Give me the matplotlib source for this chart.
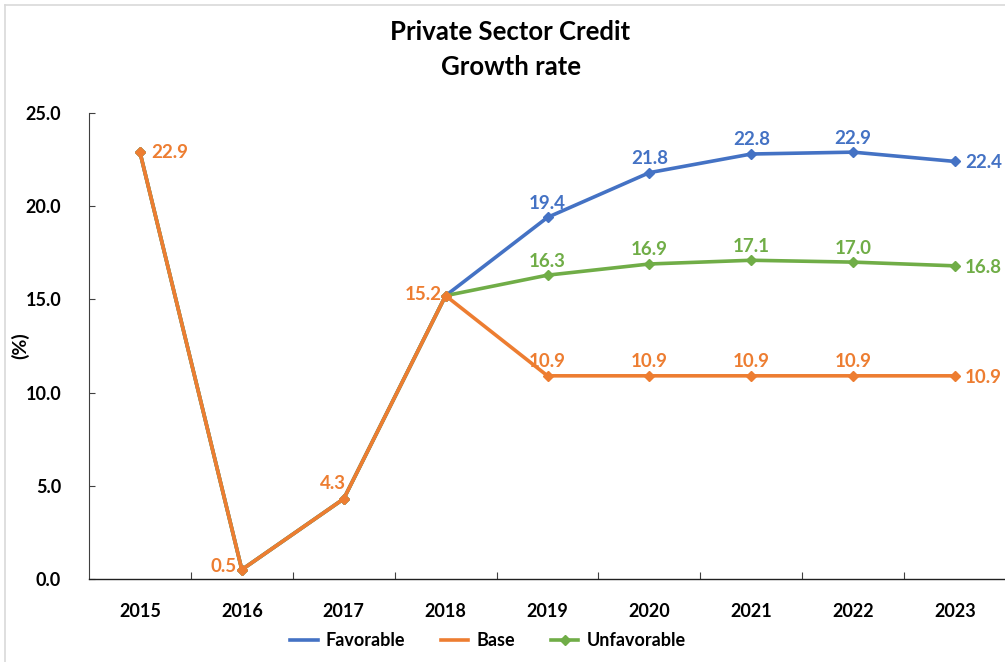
import matplotlib
matplotlib.use("Agg")
import matplotlib.pyplot as plt
from matplotlib.lines import Line2D

plt.rcParams['font.family'] = ['Lato', 'DejaVu Sans']

years = ["2015", "2016", "2017", "2018", "2019", "2020", "2021", "2022", "2023"]
favorable = [22.9, 0.5, 4.3, 15.2, 19.4, 21.8, 22.8, 22.9, 22.4]
base = [22.9, 0.5, 4.3, 15.2, 10.9, 10.9, 10.9, 10.9, 10.9]
unfavorable = [22.9, 0.5, 4.3, 15.2, 16.3, 16.9, 17.1, 17.0, 16.8]

BLUE = "#4472C4"
ORANGE = "#ED7D31"
GREEN = "#70AD47"

fig = plt.figure(figsize=(10.05, 6.62), dpi=100)
ax = fig.add_axes([89 / 1005, 83 / 662, 917 / 1005, 466 / 662])

x = list(range(len(years)))
style = dict(lw=2.6, marker="D", markersize=5, solid_joinstyle="round")
ax.plot(x, favorable, color=BLUE, **style, zorder=3)
ax.plot(x, unfavorable, color=GREEN, **style, zorder=4)
ax.plot(x, base, color=ORANGE, **style, zorder=5)

lab = dict(fontsize=13.5, fontweight="bold")

# shared history labels (2015-2018)
ax.annotate(f"{base[0]:.1f}", (0, base[0]), xytext=(8, 0), textcoords="offset points",
            ha="left", va="center", color=ORANGE, **lab)
ax.annotate(f"{base[1]:.1f}", (1, base[1]), xytext=(-4, 2), textcoords="offset points",
            ha="right", va="center", color=ORANGE, **lab)
ax.annotate(f"{base[2]:.1f}", (2, base[2]), xytext=(-8, 5), textcoords="offset points",
            ha="center", va="bottom", color=ORANGE, **lab)
ax.annotate(f"{base[3]:.1f}", (3, base[3]), xytext=(-3, 1), textcoords="offset points",
            ha="right", va="center", color=ORANGE, **lab)

# scenario labels (2019-2023)
for series, color in ((favorable, BLUE), (unfavorable, GREEN), (base, ORANGE)):
    for i in range(4, len(years)):
        if i == len(years) - 1:
            ax.annotate(f"{series[i]:.1f}", (i, series[i]), xytext=(7, -1),
                        textcoords="offset points", ha="left", va="center",
                        color=color, **lab)
        else:
            ax.annotate(f"{series[i]:.1f}", (i, series[i]), xytext=(0, 4),
                        textcoords="offset points", ha="center", va="bottom",
                        color=color, **lab)

ax.set_xlim(-0.5, len(years) - 0.5)
ax.set_ylim(0, 25)
ax.set_yticks([0, 5, 10, 15, 20, 25])
ax.set_yticklabels([f"{v:.1f}" for v in [0, 5, 10, 15, 20, 25]],
                   fontsize=13, fontweight="bold")
ax.set_xticks(x)
ax.set_xticklabels(years, fontsize=13, fontweight="bold")
ax.set_xticks([i + 0.5 for i in range(len(years) - 1)], minor=True)
ax.tick_params(axis="x", which="major", length=0, pad=17)
ax.tick_params(axis="x", which="minor", direction="in", length=5, width=0.8, color="#404040")
ax.tick_params(axis="y", direction="in", length=4, width=0.8, color="#404040", pad=20)

for side in ("top", "right"):
    ax.spines[side].set_visible(False)
ax.spines["left"].set_color("#404040")
ax.spines["left"].set_linewidth(0.8)
ax.spines["bottom"].set_color("#202020")
ax.spines["bottom"].set_linewidth(1.0)

ax.set_ylabel("(%)", fontsize=14, fontweight="bold")
ax.yaxis.set_label_coords(-60 / 917, 0.5)

fig.text(0.508, 0.952, "Private Sector Credit", ha="center", va="center",
         fontsize=18.5, fontweight="bold")
fig.text(0.508, 0.899, "Growth rate", ha="center", va="center",
         fontsize=18.5, fontweight="bold")

handles = [
    Line2D([], [], color=BLUE, lw=2.6),
    Line2D([], [], color=ORANGE, lw=2.6),
    Line2D([], [], color=GREEN, lw=2.6, marker="D", markersize=5),
]
fig.legend(handles, ["Favorable", "Base", "Unfavorable"], loc="center",
           bbox_to_anchor=(488 / 1005, 1 - 641 / 662), ncol=3, frameon=False,
           prop={"size": 13, "weight": "bold"}, handlelength=1.5,
           columnspacing=2.0, handletextpad=0.45)

# light chart-area frame
fig.add_artist(Line2D([5 / 1005, 5 / 1005], [0, 1 - 5 / 662], transform=fig.transFigure,
                      color="#D9D9D9", lw=1.2))
fig.add_artist(Line2D([5 / 1005, 1], [1 - 5 / 662, 1 - 5 / 662], transform=fig.transFigure,
                      color="#D9D9D9", lw=1.2))

fig.savefig("out.png", dpi=100)
